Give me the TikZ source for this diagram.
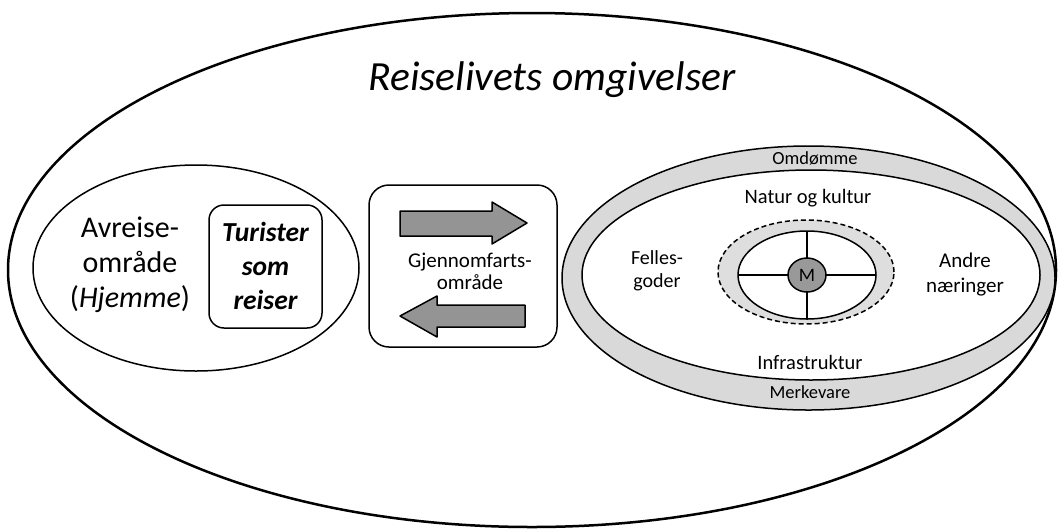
\documentclass[tikz,border=0pt]{standalone}
\usepackage{fontspec}
\setmainfont{Carlito}
\begin{document}
\begin{tikzpicture}[x=1pt,y=-1pt,line join=round,
  lw/.style={line width=1.5pt},
  txt/.style={align=center,inner sep=0pt},
  fs/.style 2 args={font=\fontsize{#1}{#2}\selectfont},
  arrowshape/.style={draw,lw,fill=black!42}]
\useasboundingbox (0,0) rectangle (1062,531);
\fill[white] (0,0) rectangle (1062,531);
% outer environment
\draw[line width=2.5pt] (532,270) ellipse [x radius=524pt, y radius=257pt];
\node[txt,fs={41.5}{48}] (title) at (552,80) {\itshape Reiselivets omgivelser};
% departure area
\draw[lw] (196,268) ellipse [x radius=163pt, y radius=103pt];
\node[txt,fs={30}{35}] (avreise) at (130,265) {Avreise-\\område\\(\textit{Hjemme})};
\node[draw,lw,rounded corners=15pt,minimum width=113pt,minimum height=123pt,fill=white] (turbox) at (265.5,266.5) {};
\node[txt,font=\fontsize{27.5}{34}\selectfont\bfseries\itshape] (turister) at (265.5,266) {Turister\\som\\reiser};
% transit area
\node[draw,lw,rounded corners=20pt,minimum width=188pt,minimum height=162pt] (mid) at (463,266) {};
\draw[arrowshape] (400,211) -- (492,211) -- (492,202) -- (527,223) -- (492,244) -- (492,236) -- (400,236) -- cycle;
\draw[arrowshape] (525,305) -- (437,305) -- (437,296) -- (400,316) -- (437,337) -- (437,327) -- (525,327) -- cycle;
\node[txt,fs={21}{22}] (gjennom) at (470,271) {Gjennomfarts-\\område};
% destination
\draw[lw,fill=black!15] (808.5,278) ellipse [x radius=246.5pt, y radius=132pt];
\draw[lw,fill=white] (811,275) ellipse [x radius=229pt, y radius=105pt];
\draw[lw,dashed,dash pattern=on 5pt off 3pt,fill=black!13] (806,272) ellipse [x radius=88pt, y radius=52pt];
\draw[lw,fill=white] (807,275) ellipse [x radius=69pt, y radius=44pt];
\draw[lw] (738,275) -- (876,275);
\draw[lw] (807,231) -- (807,319);
\draw[lw,fill=black!40] (807,275) ellipse [x radius=19pt, y radius=17pt];
\node[txt,fs={19}{22}] (m) at (807,275) {M};
\node[txt,fs={18.5}{20}] (omd) at (815,158) {Omdømme};
\node[txt,fs={20.5}{24}] (natur) at (808,198) {Natur og kultur};
\node[txt,fs={20}{23}] (felles) at (657,271) {Felles-\\goder};
\node[txt,fs={21}{25}] (andre) at (965,275) {Andre\\næringer};
\node[txt,fs={20.5}{24}] (infra) at (810,362) {Infrastruktur};
\node[txt,fs={18.5}{20}] (merke) at (810,392) {Merkevare};
\end{tikzpicture}
\end{document}
